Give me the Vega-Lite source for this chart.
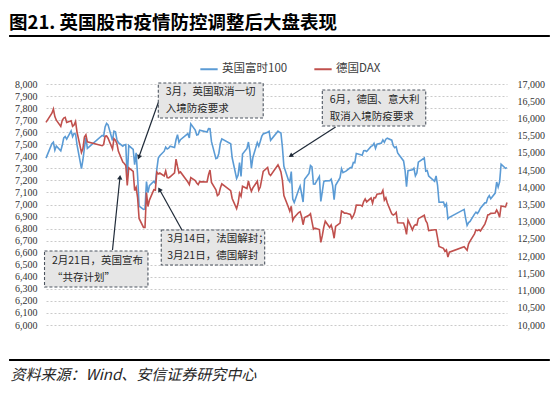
{
  "$schema": "https://vega.github.io/schema/vega-lite/v6.json",
  "width": 461,
  "height": 241,
  "autosize": "none",
  "padding": {"left": 46, "top": 84, "right": 43, "bottom": 71},
  "background": "white",
  "title": {
    "text": "图21. 英国股市疫情防控调整后大盘表现",
    "anchor": "start",
    "frame": "group",
    "dx": -37,
    "dy": 21,
    "offset": 5,
    "baseline": "bottom",
    "font": "Noto Sans CJK SC",
    "fontSize": 18.5,
    "fontWeight": "bold",
    "color": "#000000"
  },
  "datasets": {
    "idx": [
      {"date": "2021-12-31", "ftse": 7384.5, "dax": 15884.9},
      {"date": "2022-01-04", "ftse": 7505.2, "dax": 16152.6},
      {"date": "2022-01-05", "ftse": 7516.9, "dax": 16271.8},
      {"date": "2022-01-06", "ftse": 7450.4, "dax": 16052.0},
      {"date": "2022-01-07", "ftse": 7485.3, "dax": 15947.7},
      {"date": "2022-01-10", "ftse": 7445.3, "dax": 15768.3},
      {"date": "2022-01-11", "ftse": 7491.4, "dax": 15941.8},
      {"date": "2022-01-12", "ftse": 7551.7, "dax": 16010.3},
      {"date": "2022-01-13", "ftse": 7563.6, "dax": 16031.6},
      {"date": "2022-01-14", "ftse": 7542.9, "dax": 15883.2},
      {"date": "2022-01-17", "ftse": 7611.2, "dax": 15933.7},
      {"date": "2022-01-18", "ftse": 7563.6, "dax": 15772.6},
      {"date": "2022-01-19", "ftse": 7589.7, "dax": 15809.7},
      {"date": "2022-01-20", "ftse": 7585.0, "dax": 15912.3},
      {"date": "2022-01-21", "ftse": 7494.1, "dax": 15603.9},
      {"date": "2022-01-24", "ftse": 7297.2, "dax": 15011.1},
      {"date": "2022-01-25", "ftse": 7371.5, "dax": 15123.9},
      {"date": "2022-01-26", "ftse": 7469.8, "dax": 15459.4},
      {"date": "2022-01-27", "ftse": 7554.3, "dax": 15524.3},
      {"date": "2022-01-28", "ftse": 7466.1, "dax": 15318.9},
      {"date": "2022-02-07", "ftse": 7573.5, "dax": 15206.6},
      {"date": "2022-02-08", "ftse": 7567.1, "dax": 15242.4},
      {"date": "2022-02-09", "ftse": 7643.4, "dax": 15482.0},
      {"date": "2022-02-10", "ftse": 7672.4, "dax": 15490.4},
      {"date": "2022-02-11", "ftse": 7661.0, "dax": 15425.1},
      {"date": "2022-02-14", "ftse": 7531.6, "dax": 15113.1},
      {"date": "2022-02-15", "ftse": 7608.9, "dax": 15412.7},
      {"date": "2022-02-16", "ftse": 7603.8, "dax": 15370.3},
      {"date": "2022-02-17", "ftse": 7537.4, "dax": 15267.6},
      {"date": "2022-02-18", "ftse": 7513.6, "dax": 15042.5},
      {"date": "2022-02-21", "ftse": 7484.3, "dax": 14731.1},
      {"date": "2022-02-22", "ftse": 7494.2, "dax": 14693.0},
      {"date": "2022-02-23", "ftse": 7498.2, "dax": 14631.4},
      {"date": "2022-02-24", "ftse": 7207.4, "dax": 14052.1},
      {"date": "2022-02-25", "ftse": 7489.5, "dax": 14567.2},
      {"date": "2022-02-28", "ftse": 7458.3, "dax": 14461.0},
      {"date": "2022-03-01", "ftse": 7330.2, "dax": 13904.9},
      {"date": "2022-03-02", "ftse": 7429.6, "dax": 14000.0},
      {"date": "2022-03-03", "ftse": 7238.9, "dax": 13698.4},
      {"date": "2022-03-04", "ftse": 6987.1, "dax": 13094.5},
      {"date": "2022-03-07", "ftse": 6959.5, "dax": 12834.7},
      {"date": "2022-03-08", "ftse": 6964.1, "dax": 12831.5},
      {"date": "2022-03-09", "ftse": 7190.7, "dax": 13847.9},
      {"date": "2022-03-10", "ftse": 7099.1, "dax": 13442.1},
      {"date": "2022-03-11", "ftse": 7155.6, "dax": 13628.1},
      {"date": "2022-03-14", "ftse": 7193.5, "dax": 13929.1},
      {"date": "2022-03-15", "ftse": 7175.7, "dax": 13917.3},
      {"date": "2022-03-16", "ftse": 7291.7, "dax": 14440.7},
      {"date": "2022-03-17", "ftse": 7385.3, "dax": 14388.2},
      {"date": "2022-03-18", "ftse": 7404.7, "dax": 14413.1},
      {"date": "2022-03-21", "ftse": 7442.4, "dax": 14326.9},
      {"date": "2022-03-22", "ftse": 7476.7, "dax": 14473.2},
      {"date": "2022-03-23", "ftse": 7460.6, "dax": 14283.7},
      {"date": "2022-03-24", "ftse": 7467.4, "dax": 14273.8},
      {"date": "2022-03-25", "ftse": 7483.4, "dax": 14305.8},
      {"date": "2022-03-28", "ftse": 7473.1, "dax": 14417.4},
      {"date": "2022-03-29", "ftse": 7537.3, "dax": 14820.3},
      {"date": "2022-03-30", "ftse": 7578.8, "dax": 14606.0},
      {"date": "2022-03-31", "ftse": 7515.7, "dax": 14414.8},
      {"date": "2022-04-01", "ftse": 7537.9, "dax": 14446.5},
      {"date": "2022-04-06", "ftse": 7587.7, "dax": 14152.6},
      {"date": "2022-04-07", "ftse": 7551.8, "dax": 14078.2},
      {"date": "2022-04-08", "ftse": 7669.6, "dax": 14283.7},
      {"date": "2022-04-11", "ftse": 7618.3, "dax": 14192.9},
      {"date": "2022-04-12", "ftse": 7576.7, "dax": 14124.9},
      {"date": "2022-04-13", "ftse": 7580.8, "dax": 14076.4},
      {"date": "2022-04-14", "ftse": 7616.4, "dax": 14163.9},
      {"date": "2022-04-19", "ftse": 7601.3, "dax": 14153.5},
      {"date": "2022-04-20", "ftse": 7629.2, "dax": 14362.1},
      {"date": "2022-04-21", "ftse": 7627.9, "dax": 14502.4},
      {"date": "2022-04-22", "ftse": 7521.7, "dax": 14142.1},
      {"date": "2022-04-25", "ftse": 7380.5, "dax": 13924.2},
      {"date": "2022-04-26", "ftse": 7386.2, "dax": 13756.4},
      {"date": "2022-04-27", "ftse": 7425.6, "dax": 13793.0},
      {"date": "2022-04-28", "ftse": 7509.2, "dax": 13979.8},
      {"date": "2022-04-29", "ftse": 7544.6, "dax": 14097.9},
      {"date": "2022-05-05", "ftse": 7503.3, "dax": 13902.5},
      {"date": "2022-05-06", "ftse": 7387.9, "dax": 13674.3},
      {"date": "2022-05-09", "ftse": 7216.6, "dax": 13380.7},
      {"date": "2022-05-10", "ftse": 7243.2, "dax": 13534.7},
      {"date": "2022-05-11", "ftse": 7347.7, "dax": 13828.6},
      {"date": "2022-05-12", "ftse": 7233.3, "dax": 13739.6},
      {"date": "2022-05-13", "ftse": 7418.2, "dax": 14027.9},
      {"date": "2022-05-16", "ftse": 7464.8, "dax": 13964.4},
      {"date": "2022-05-17", "ftse": 7518.4, "dax": 14185.9},
      {"date": "2022-05-18", "ftse": 7438.1, "dax": 14007.8},
      {"date": "2022-05-19", "ftse": 7302.7, "dax": 13882.3},
      {"date": "2022-05-20", "ftse": 7389.9, "dax": 13981.9},
      {"date": "2022-05-23", "ftse": 7513.4, "dax": 14175.4},
      {"date": "2022-05-24", "ftse": 7484.4, "dax": 13919.8},
      {"date": "2022-05-25", "ftse": 7522.8, "dax": 14007.8},
      {"date": "2022-05-26", "ftse": 7564.9, "dax": 14231.3},
      {"date": "2022-05-27", "ftse": 7585.5, "dax": 14462.2},
      {"date": "2022-05-30", "ftse": 7600.1, "dax": 14575.9},
      {"date": "2022-05-31", "ftse": 7607.7, "dax": 14388.4},
      {"date": "2022-06-01", "ftse": 7532.9, "dax": 14340.5},
      {"date": "2022-06-06", "ftse": 7608.2, "dax": 14653.8},
      {"date": "2022-06-07", "ftse": 7598.9, "dax": 14556.0},
      {"date": "2022-06-08", "ftse": 7593.0, "dax": 14445.9},
      {"date": "2022-06-09", "ftse": 7476.2, "dax": 14198.8},
      {"date": "2022-06-10", "ftse": 7317.5, "dax": 13761.8},
      {"date": "2022-06-13", "ftse": 7205.8, "dax": 13427.0},
      {"date": "2022-06-14", "ftse": 7187.5, "dax": 13304.4},
      {"date": "2022-06-15", "ftse": 7273.4, "dax": 13447.4},
      {"date": "2022-06-16", "ftse": 7044.9, "dax": 13038.5},
      {"date": "2022-06-17", "ftse": 7016.3, "dax": 13126.3},
      {"date": "2022-06-20", "ftse": 7121.8, "dax": 13265.6},
      {"date": "2022-06-21", "ftse": 7152.1, "dax": 13292.4},
      {"date": "2022-06-22", "ftse": 7089.2, "dax": 13144.3},
      {"date": "2022-06-23", "ftse": 7020.5, "dax": 12912.6},
      {"date": "2022-06-24", "ftse": 7208.8, "dax": 13118.1},
      {"date": "2022-06-27", "ftse": 7258.3, "dax": 13186.1},
      {"date": "2022-06-28", "ftse": 7323.4, "dax": 13231.8},
      {"date": "2022-06-29", "ftse": 7312.3, "dax": 13003.4},
      {"date": "2022-06-30", "ftse": 7169.3, "dax": 12783.8},
      {"date": "2022-07-01", "ftse": 7168.6, "dax": 12813.0},
      {"date": "2022-07-04", "ftse": 7232.6, "dax": 12773.4},
      {"date": "2022-07-05", "ftse": 7025.5, "dax": 12401.2},
      {"date": "2022-07-06", "ftse": 7107.8, "dax": 12594.5},
      {"date": "2022-07-07", "ftse": 7189.1, "dax": 12843.2},
      {"date": "2022-07-08", "ftse": 7196.2, "dax": 13015.2},
      {"date": "2022-07-11", "ftse": 7196.6, "dax": 12832.4},
      {"date": "2022-07-12", "ftse": 7209.9, "dax": 12905.5},
      {"date": "2022-07-13", "ftse": 7156.4, "dax": 12756.3},
      {"date": "2022-07-14", "ftse": 7039.8, "dax": 12519.7},
      {"date": "2022-07-15", "ftse": 7159.0, "dax": 12864.7},
      {"date": "2022-07-18", "ftse": 7223.2, "dax": 12959.8},
      {"date": "2022-07-19", "ftse": 7296.3, "dax": 13308.4},
      {"date": "2022-07-20", "ftse": 7264.3, "dax": 13281.9},
      {"date": "2022-07-21", "ftse": 7270.5, "dax": 13246.6},
      {"date": "2022-07-22", "ftse": 7276.4, "dax": 13253.7},
      {"date": "2022-07-25", "ftse": 7306.3, "dax": 13210.3},
      {"date": "2022-07-26", "ftse": 7306.3, "dax": 13096.9},
      {"date": "2022-07-27", "ftse": 7348.2, "dax": 13166.4},
      {"date": "2022-07-28", "ftse": 7345.3, "dax": 13282.1},
      {"date": "2022-07-29", "ftse": 7423.4, "dax": 13484.1},
      {"date": "2022-08-01", "ftse": 7413.4, "dax": 13479.6},
      {"date": "2022-08-02", "ftse": 7409.1, "dax": 13449.2},
      {"date": "2022-08-03", "ftse": 7445.7, "dax": 13587.6},
      {"date": "2022-08-04", "ftse": 7448.1, "dax": 13662.7},
      {"date": "2022-08-05", "ftse": 7439.7, "dax": 13573.9},
      {"date": "2022-08-08", "ftse": 7482.4, "dax": 13687.7},
      {"date": "2022-08-09", "ftse": 7488.2, "dax": 13534.9},
      {"date": "2022-08-10", "ftse": 7507.1, "dax": 13700.9},
      {"date": "2022-08-11", "ftse": 7465.9, "dax": 13694.5},
      {"date": "2022-08-12", "ftse": 7500.9, "dax": 13795.9},
      {"date": "2022-08-15", "ftse": 7509.2, "dax": 13816.6},
      {"date": "2022-08-16", "ftse": 7536.1, "dax": 13910.1},
      {"date": "2022-08-17", "ftse": 7515.8, "dax": 13626.7},
      {"date": "2022-08-18", "ftse": 7541.9, "dax": 13697.4},
      {"date": "2022-08-19", "ftse": 7550.4, "dax": 13544.5},
      {"date": "2022-08-22", "ftse": 7533.8, "dax": 13230.6},
      {"date": "2022-08-23", "ftse": 7488.1, "dax": 13194.2},
      {"date": "2022-08-24", "ftse": 7471.5, "dax": 13220.1},
      {"date": "2022-08-25", "ftse": 7479.7, "dax": 13271.9},
      {"date": "2022-08-26", "ftse": 7427.3, "dax": 12971.5},
      {"date": "2022-08-30", "ftse": 7361.6, "dax": 12961.1},
      {"date": "2022-08-31", "ftse": 7284.2, "dax": 12834.9},
      {"date": "2022-09-01", "ftse": 7148.5, "dax": 12630.2},
      {"date": "2022-09-02", "ftse": 7281.2, "dax": 13050.3},
      {"date": "2022-09-05", "ftse": 7287.4, "dax": 12760.8},
      {"date": "2022-09-06", "ftse": 7300.4, "dax": 12871.4},
      {"date": "2022-09-07", "ftse": 7237.8, "dax": 12915.9},
      {"date": "2022-09-08", "ftse": 7262.1, "dax": 12904.3},
      {"date": "2022-09-09", "ftse": 7351.1, "dax": 13088.2},
      {"date": "2022-09-13", "ftse": 7385.9, "dax": 13188.4},
      {"date": "2022-09-14", "ftse": 7277.3, "dax": 13027.9},
      {"date": "2022-09-15", "ftse": 7282.1, "dax": 12956.7},
      {"date": "2022-09-16", "ftse": 7236.7, "dax": 12741.3},
      {"date": "2022-09-20", "ftse": 7192.7, "dax": 12767.2},
      {"date": "2022-09-21", "ftse": 7237.6, "dax": 12767.1},
      {"date": "2022-09-22", "ftse": 7159.5, "dax": 12531.6},
      {"date": "2022-09-23", "ftse": 7018.6, "dax": 12284.2},
      {"date": "2022-09-26", "ftse": 7020.9, "dax": 12227.9},
      {"date": "2022-09-27", "ftse": 6984.6, "dax": 12139.7},
      {"date": "2022-09-28", "ftse": 7005.4, "dax": 12183.3},
      {"date": "2022-09-29", "ftse": 6881.6, "dax": 11975.6},
      {"date": "2022-09-30", "ftse": 6893.8, "dax": 12114.4},
      {"date": "2022-10-10", "ftse": 6959.3, "dax": 12272.9},
      {"date": "2022-10-11", "ftse": 6885.2, "dax": 12220.3},
      {"date": "2022-10-12", "ftse": 6826.2, "dax": 12172.3},
      {"date": "2022-10-13", "ftse": 6850.3, "dax": 12355.6},
      {"date": "2022-10-14", "ftse": 6858.8, "dax": 12437.8},
      {"date": "2022-10-17", "ftse": 6920.2, "dax": 12649.0},
      {"date": "2022-10-18", "ftse": 6936.7, "dax": 12765.6},
      {"date": "2022-10-19", "ftse": 6924.9, "dax": 12741.4},
      {"date": "2022-10-20", "ftse": 6943.9, "dax": 12767.4},
      {"date": "2022-10-21", "ftse": 6969.7, "dax": 12730.9},
      {"date": "2022-10-24", "ftse": 7013.5, "dax": 12931.0},
      {"date": "2022-10-25", "ftse": 7013.9, "dax": 13052.9},
      {"date": "2022-10-26", "ftse": 7056.1, "dax": 13195.8},
      {"date": "2022-10-27", "ftse": 7073.7, "dax": 13211.4},
      {"date": "2022-10-28", "ftse": 7047.7, "dax": 13243.3},
      {"date": "2022-10-31", "ftse": 7094.5, "dax": 13253.7},
      {"date": "2022-11-01", "ftse": 7186.2, "dax": 13338.7},
      {"date": "2022-11-02", "ftse": 7144.1, "dax": 13256.7},
      {"date": "2022-11-03", "ftse": 7188.6, "dax": 13130.2},
      {"date": "2022-11-04", "ftse": 7334.8, "dax": 13459.9},
      {"date": "2022-11-07", "ftse": 7299.9, "dax": 13429.5},
      {"date": "2022-11-08", "ftse": 7306.1, "dax": 13560.0}
    ],
    "boxes": [
      {"id": 1, "x1": "2022-03-17", "x2": "2022-05-27", "y1": 8008, "y2": 7718},
      {"id": 2, "x1": "2022-07-06", "x2": "2022-09-14", "y1": 7950, "y2": 7651},
      {"id": 3, "x1": "2021-12-30", "x2": "2022-03-10", "y1": 6614, "y2": 6315},
      {"id": 4, "x1": "2022-03-19", "x2": "2022-05-28", "y1": 6788, "y2": 6498}
    ],
    "notes": [
      {"id": 1, "x": "2022-03-22", "y": 7934, "text": "3月，英国取消一切\n入境防疫要求"},
      {"id": 2, "x": "2022-07-11", "y": 7871, "text": "6月，德国、意大利\n取消入境防疫要求"},
      {"id": 3, "x": "2022-01-04", "y": 6535, "text": "2月21日，英国宣布\n“共存计划”"},
      {"id": 4, "x": "2022-03-23", "y": 6713, "text": "3月14日，法国解封；\n3月21日，德国解封"}
    ],
    "arrows": [
      {"id": 1, "x1": "2022-03-17", "y1": 7846, "x2": "2022-03-04", "y2": 7398},
      {"id": 2, "x1": "2022-07-15", "y1": 7643, "x2": "2022-06-15", "y2": 7407},
      {"id": 3, "x1": "2022-02-14", "y1": 6622, "x2": "2022-02-19", "y2": 7220},
      {"id": 4, "x1": "2022-04-02", "y1": 6788, "x2": "2022-03-18", "y2": 7120}
    ],
    "frame": [
      {"x1": "2021-12-06", "x2": "2022-12-07", "y": 8398},
      {"x1": "2021-12-06", "x2": "2022-12-07", "y": 5709}
    ],
    "source": [
      {"x": "2021-12-07", "y": 5585, "text": "资料来源：Wind、安信证券研究中心"}
    ]
  },
  "layer": [
    {
      "data": {"name": "idx"},
      "mark": {"type": "line", "strokeWidth": 1.6, "interpolate": "linear"},
      "encoding": {
        "x": {
          "field": "date", "type": "temporal",
          "scale": {"type": "utc", "domain": [{"year": 2021, "month": 12, "date": 31, "utc": true}, {"year": 2022, "month": 11, "date": 8, "utc": true}]},
          "axis": {
            "title": null, "format": "%Y-%m", "formatType": "utc",
            "tickCount": {"interval": "month", "step": 1},
            "grid": true, "gridDash": [2, 2], "gridColor": "#bdbdbd", "gridWidth": 0.8,
            "domain": false, "ticks": false, "labelPadding": 6,
            "labelFont": "Liberation Serif", "labelFontSize": 10, "labelColor": "#333333",
            "labelOverlap": false, "labelBound": false, "labelFlush": false
          }
        },
        "y": {
          "field": "ftse", "type": "quantitative",
          "scale": {"domain": [6000, 8000], "nice": false, "zero": false},
          "axis": {
            "orient": "left", "title": null, "format": ",d",
            "values": [6000, 6100, 6200, 6300, 6400, 6500, 6600, 6700, 6800, 6900, 7000, 7100, 7200, 7300, 7400, 7500, 7600, 7700, 7800, 7900, 8000],
            "grid": true, "gridDash": [2, 2], "gridColor": "#bdbdbd", "gridWidth": 0.8,
            "domain": false, "ticks": false, "labelPadding": 9,
            "labelFont": "Liberation Serif", "labelFontSize": 10, "labelColor": "#333333"
          }
        },
        "color": {
          "datum": "英国富时100", "type": "nominal",
          "scale": {"domain": ["英国富时100", "德国DAX"], "range": ["#5B9BD5", "#C0504D"]},
          "legend": {
            "title": null, "orient": "none", "direction": "horizontal",
            "legendX": 153, "legendY": -25, "padding": 0,
            "symbolType": "stroke", "symbolSize": 300, "symbolStrokeWidth": 2,
            "labelFont": "Noto Sans CJK SC", "labelFontSize": 11.5, "labelColor": "#404040",
            "labelOffset": 3, "columnPadding": 22
          }
        }
      }
    },
    {
      "data": {"name": "idx"},
      "mark": {"type": "line", "strokeWidth": 1.6, "interpolate": "linear"},
      "encoding": {
        "x": {
          "field": "date", "type": "temporal",
          "scale": {"type": "utc", "domain": [{"year": 2021, "month": 12, "date": 31, "utc": true}, {"year": 2022, "month": 11, "date": 8, "utc": true}]},
          "axis": null
        },
        "y": {
          "field": "dax", "type": "quantitative",
          "scale": {"domain": [10000, 17000], "nice": false, "zero": false},
          "axis": {
            "orient": "right", "title": null, "format": ",d",
            "values": [10000, 10500, 11000, 11500, 12000, 12500, 13000, 13500, 14000, 14500, 15000, 15500, 16000, 16500, 17000],
            "grid": false, "domain": false, "ticks": false, "labelPadding": 10,
            "labelFont": "Liberation Serif", "labelFontSize": 10, "labelColor": "#333333"
          }
        },
        "color": {
          "datum": "德国DAX", "type": "nominal",
          "scale": {"domain": ["英国富时100", "德国DAX"], "range": ["#5B9BD5", "#C0504D"]}
        }
      }
    },
    {
      "layer": [
        {
          "data": {"name": "boxes"},
          "mark": {"type": "rect", "fill": "#e6e6e6", "stroke": "#4d5560", "strokeWidth": 1.1, "strokeDash": [3, 2]},
          "encoding": {
            "x": {"field": "x1", "type": "temporal", "scale": {"type": "utc", "domain": [{"year": 2021, "month": 12, "date": 31, "utc": true}, {"year": 2022, "month": 11, "date": 8, "utc": true}]}, "axis": null},
            "x2": {"field": "x2"},
            "y": {"field": "y1", "type": "quantitative", "scale": {"domain": [6000, 8000], "nice": false, "zero": false}, "axis": null},
            "y2": {"field": "y2"}
          }
        },
        {
          "data": {"name": "notes"},
          "mark": {"type": "text", "align": "left", "baseline": "middle", "lineBreak": "\n", "lineHeight": 17, "font": "Noto Sans CJK SC", "fontSize": 10.5, "color": "#262626"},
          "encoding": {
            "x": {"field": "x", "type": "temporal", "scale": {"type": "utc", "domain": [{"year": 2021, "month": 12, "date": 31, "utc": true}, {"year": 2022, "month": 11, "date": 8, "utc": true}]}, "axis": null},
            "y": {"field": "y", "type": "quantitative", "scale": {"domain": [6000, 8000], "nice": false, "zero": false}, "axis": null},
            "text": {"field": "text"}
          }
        },
        {
          "data": {"name": "arrows"},
          "mark": {"type": "rule", "color": "#1f2a38", "strokeWidth": 1.2},
          "encoding": {
            "x": {"field": "x1", "type": "temporal", "scale": {"type": "utc", "domain": [{"year": 2021, "month": 12, "date": 31, "utc": true}, {"year": 2022, "month": 11, "date": 8, "utc": true}]}, "axis": null},
            "x2": {"field": "x2"},
            "y": {"field": "y1", "type": "quantitative", "scale": {"domain": [6000, 8000], "nice": false, "zero": false}, "axis": null},
            "y2": {"field": "y2"}
          }
        },
        {
          "data": {"name": "arrows"},
          "transform": [{"filter": "datum.id == 1"}],
          "mark": {"type": "point", "shape": "triangle", "filled": true, "size": 28, "angle": 200, "color": "#1f2a38", "opacity": 1},
          "encoding": {
            "x": {"field": "x2", "type": "temporal", "scale": {"type": "utc", "domain": [{"year": 2021, "month": 12, "date": 31, "utc": true}, {"year": 2022, "month": 11, "date": 8, "utc": true}]}, "axis": null},
            "y": {"field": "y2", "type": "quantitative", "scale": {"domain": [6000, 8000], "nice": false, "zero": false}, "axis": null}
          }
        },
        {
          "data": {"name": "arrows"},
          "transform": [{"filter": "datum.id == 2"}],
          "mark": {"type": "point", "shape": "triangle", "filled": true, "size": 28, "angle": 237, "color": "#1f2a38", "opacity": 1},
          "encoding": {
            "x": {"field": "x2", "type": "temporal", "scale": {"type": "utc", "domain": [{"year": 2021, "month": 12, "date": 31, "utc": true}, {"year": 2022, "month": 11, "date": 8, "utc": true}]}, "axis": null},
            "y": {"field": "y2", "type": "quantitative", "scale": {"domain": [6000, 8000], "nice": false, "zero": false}, "axis": null}
          }
        },
        {
          "data": {"name": "arrows"},
          "transform": [{"filter": "datum.id == 3"}],
          "mark": {"type": "point", "shape": "triangle", "filled": true, "size": 28, "angle": 6, "color": "#1f2a38", "opacity": 1},
          "encoding": {
            "x": {"field": "x2", "type": "temporal", "scale": {"type": "utc", "domain": [{"year": 2021, "month": 12, "date": 31, "utc": true}, {"year": 2022, "month": 11, "date": 8, "utc": true}]}, "axis": null},
            "y": {"field": "y2", "type": "quantitative", "scale": {"domain": [6000, 8000], "nice": false, "zero": false}, "axis": null}
          }
        },
        {
          "data": {"name": "arrows"},
          "transform": [{"filter": "datum.id == 4"}],
          "mark": {"type": "point", "shape": "triangle", "filled": true, "size": 28, "angle": 330, "color": "#1f2a38", "opacity": 1},
          "encoding": {
            "x": {"field": "x2", "type": "temporal", "scale": {"type": "utc", "domain": [{"year": 2021, "month": 12, "date": 31, "utc": true}, {"year": 2022, "month": 11, "date": 8, "utc": true}]}, "axis": null},
            "y": {"field": "y2", "type": "quantitative", "scale": {"domain": [6000, 8000], "nice": false, "zero": false}, "axis": null}
          }
        },
        {
          "data": {"name": "frame"},
          "mark": {"type": "rule", "color": "#000000", "strokeWidth": 2},
          "encoding": {
            "x": {"field": "x1", "type": "temporal", "scale": {"type": "utc", "domain": [{"year": 2021, "month": 12, "date": 31, "utc": true}, {"year": 2022, "month": 11, "date": 8, "utc": true}]}, "axis": null},
            "x2": {"field": "x2"},
            "y": {"field": "y", "type": "quantitative", "scale": {"domain": [6000, 8000], "nice": false, "zero": false}, "axis": null}
          }
        },
        {
          "data": {"name": "source"},
          "mark": {"type": "text", "align": "left", "baseline": "middle", "font": "Noto Sans CJK SC", "fontSize": 15, "fontStyle": "italic", "color": "#262626"},
          "encoding": {
            "x": {"field": "x", "type": "temporal", "scale": {"type": "utc", "domain": [{"year": 2021, "month": 12, "date": 31, "utc": true}, {"year": 2022, "month": 11, "date": 8, "utc": true}]}, "axis": null},
            "y": {"field": "y", "type": "quantitative", "scale": {"domain": [6000, 8000], "nice": false, "zero": false}, "axis": null},
            "text": {"field": "text"}
          }
        }
      ]
    }
  ],
  "resolve": {"scale": {"y": "independent"}},
  "config": {
    "view": {"stroke": null},
    "font": "Noto Sans CJK SC"
  }
}
